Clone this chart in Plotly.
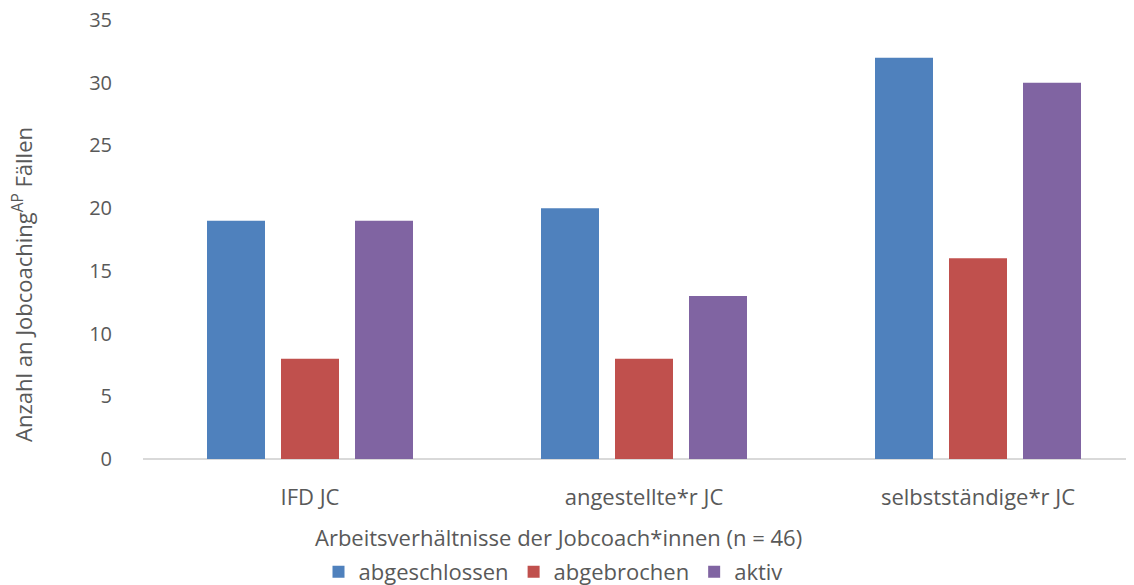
import plotly.graph_objects as go

categories = ["IFD JC", "angestellte*r JC", "selbstständige*r JC"]
series_names = ["abgeschlossen", "abgebrochen", "aktiv"]
abgeschlossen = [19, 20, 32]
abgebrochen = [8, 8, 16]
aktiv = [19, 13, 30]
y_ticks = [0, 5, 10, 15, 20, 25, 30, 35]

colors = ["#4F81BD", "#C0504D", "#8064A2"]
values = [abgeschlossen, abgebrochen, aktiv]

# the page body adds an 8px offset, so the figure is drawn 8px smaller
OFF = 8
W, H = 1134 - OFF, 585 - OFF
L, R, T, B = 143 - OFF, 0, 20 - OFF, 126
plot_w = W - L - R
plot_h = H - T - B
cat_px = 334.0
bar_w = 58 / cat_px
step = 74 / cat_px
xpos = list(range(len(categories)))

fig = go.Figure()
for i, (name, vals, col) in enumerate(zip(series_names, values, colors)):
    fig.add_trace(go.Bar(
        x=xpos, y=vals, name=name, marker_color=col,
        width=bar_w, offset=(i - 1) * step - bar_w / 2,
        marker_line_width=0,
    ))

font_family = "Open Sans, Lato, sans-serif"
txt = "#595959"

fig.update_layout(
    width=W, height=H,
    margin=dict(l=L, r=R, t=T, b=B, autoexpand=False),
    paper_bgcolor="white", plot_bgcolor="white",
    barmode="overlay",
    font=dict(family=font_family, size=21, color=txt),
    showlegend=True,
    legend=dict(orientation="h", x=(553 - 143) / plot_w, xanchor="center",
                y=-(572 - 459) / plot_h, yanchor="middle",
                font=dict(size=22, color=txt), itemwidth=30,
                tracegroupgap=0, traceorder="normal"),
    xaxis=dict(
        tickmode="array", tickvals=xpos, ticktext=categories,
        range=[-0.5, -0.5 + plot_w / cat_px],
        showgrid=False, zeroline=False, showline=False, automargin=False,
        ticks="", tickfont=dict(size=22, color=txt),
        ticklabelstandoff=23, ticklabeloverflow="allow",
    ),
    yaxis=dict(
        range=[0, 35], tickvals=y_ticks, showgrid=False, automargin=False,
        zeroline=True, zerolinecolor="#D9D9D9", zerolinewidth=1.5,
        showline=False, ticks="", tickfont=dict(size=20, color=txt),
        ticklabelstandoff=30, ticklabeloverflow="allow",
    ),
    annotations=[
        dict(text="Arbeitsverhältnisse der Jobcoach*innen (n = 46)",
             xref="paper", yref="paper",
             x=(558 - 143) / plot_w, y=-(537 - 459) / plot_h,
             xanchor="center", yanchor="middle", showarrow=False,
             font=dict(size=22, color=txt)),
        dict(text="Anzahl an Jobcoaching<sup>AP</sup> Fällen",
             xref="paper", yref="paper",
             x=(22 - 143) / plot_w, y=(459 - 285) / plot_h,
             xanchor="center", yanchor="middle", showarrow=False,
             textangle=-90, font=dict(size=22, color=txt)),
    ],
)

fig.write_html("out.html")
